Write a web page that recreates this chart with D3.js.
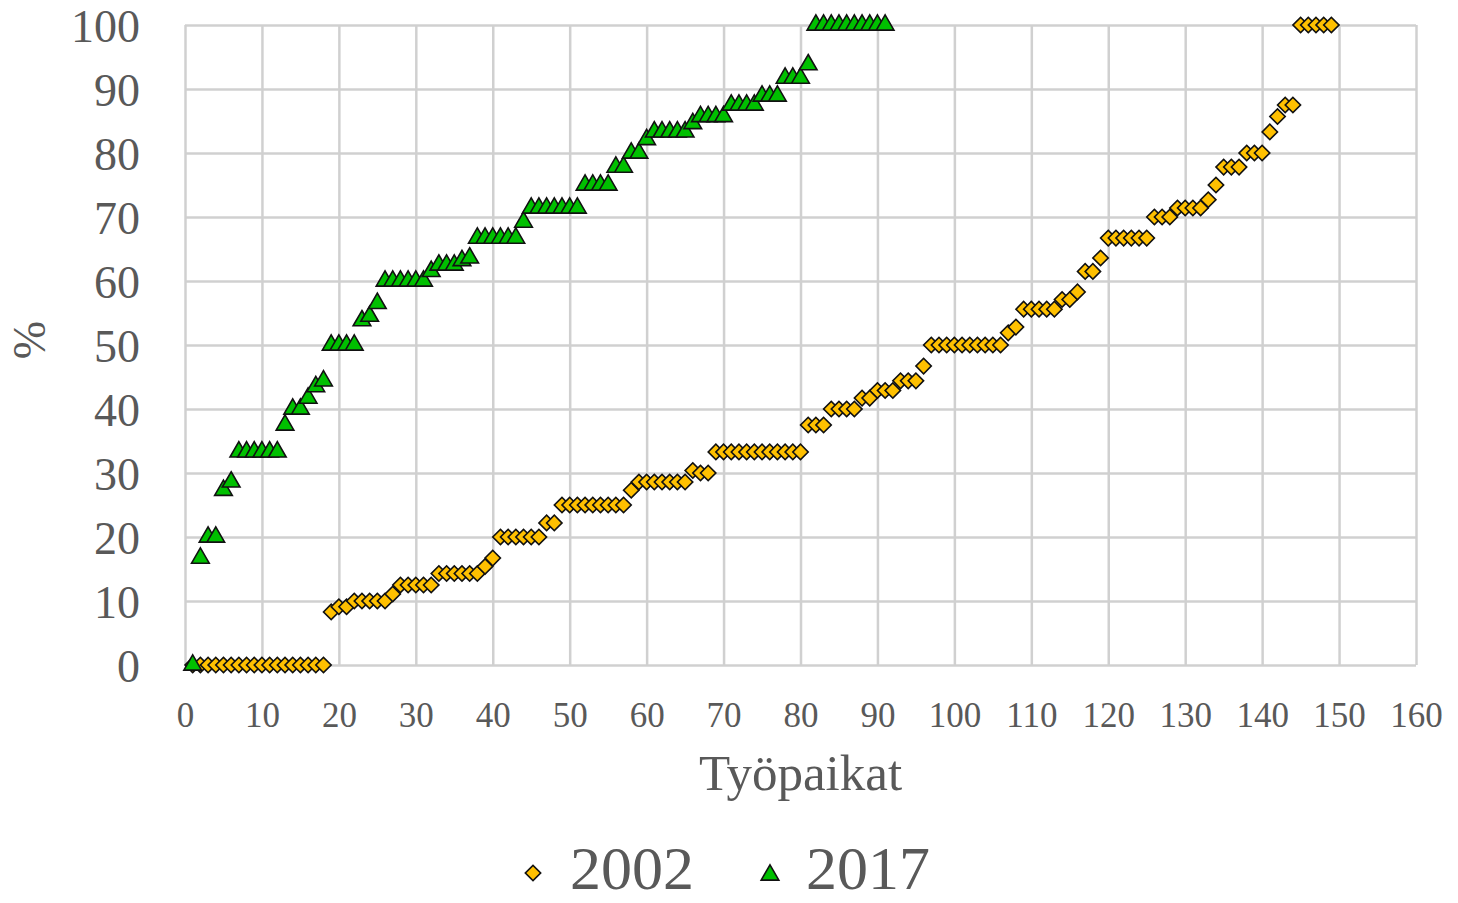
<!DOCTYPE html>
<html>
<head>
<meta charset="utf-8">
<script src="https://cdn.jsdelivr.net/npm/d3@7"></script>
<style>
  body { margin: 0; background: #fff; }
  svg { display: block; }
  text { font-family: "Liberation Serif", "Times New Roman", serif; fill: #595959; }
</style>
</head>
<body>
<svg id="chart" width="1458" height="903"></svg>
<script>
// values, one per workplace (x = 1, 2, 3 ...)
const series2002 = [
  0, 0, 0, 0, 0, 0, 0, 0, 0, 0, 0, 0, 0, 0, 0, 0, 0, 0,
  8.3, 9.1, 9.1, 10, 10, 10, 10, 10, 11.1,
  12.5, 12.5, 12.5, 12.5, 12.5,
  14.3, 14.3, 14.3, 14.3, 14.3, 14.3, 15.4, 16.7,
  20, 20, 20, 20, 20, 20, 22.2, 22.2,
  25, 25, 25, 25, 25, 25, 25, 25, 25, 27.3,
  28.6, 28.6, 28.6, 28.6, 28.6, 28.6, 28.6, 30.4, 30, 30,
  33.3, 33.3, 33.3, 33.3, 33.3, 33.3, 33.3, 33.3, 33.3, 33.3, 33.3, 33.3,
  37.5, 37.5, 37.5, 40, 40, 40, 40, 41.7, 41.7, 42.9, 42.9, 42.9,
  44.4, 44.4, 44.4, 46.7,
  50, 50, 50, 50, 50, 50, 50, 50, 50, 50, 51.9, 52.8,
  55.6, 55.6, 55.6, 55.6, 55.6, 57.1, 57.1, 58.3, 61.5, 61.5, 63.6,
  66.7, 66.7, 66.7, 66.7, 66.7, 66.7, 70, 70, 70,
  71.4, 71.4, 71.4, 71.4, 72.7, 75, 77.8, 77.8, 77.8, 80, 80, 80,
  83.3, 85.7, 87.5, 87.5, 100, 100, 100, 100, 100
];
const series2017 = [
  0, 16.7, 20, 20, 27.3, 28.6,
  33.3, 33.3, 33.3, 33.3, 33.3, 33.3,
  37.5, 40, 40, 41.7, 43.5, 44.4,
  50, 50, 50, 50, 53.8, 54.5, 56.5,
  60, 60, 60, 60, 60, 60, 61.5, 62.5, 62.5, 62.5, 63.2, 63.6,
  66.7, 66.7, 66.7, 66.7, 66.7, 66.7, 69.2,
  71.4, 71.4, 71.4, 71.4, 71.4, 71.4, 71.4,
  75, 75, 75, 75, 77.8, 77.8, 80, 80, 82.1,
  83.3, 83.3, 83.3, 83.3, 83.3, 84.6,
  85.7, 85.7, 85.7, 85.7, 87.5, 87.5, 87.5, 87.5,
  88.9, 88.9, 88.9, 91.7, 91.7, 91.7, 93.8,
  100, 100, 100, 100, 100, 100, 100, 100, 100, 100
];
const seriesNames = ["2002", "2017"];
const xTicks = d3.range(0, 161, 10);
const yTicks = d3.range(0, 101, 10);

const margin = { top: 25, right: 42, bottom: 238, left: 185 };
const width = 1458 - margin.left - margin.right;
const height = 903 - margin.top - margin.bottom;

const svg = d3.select("#chart");
const g = svg.append("g").attr("transform", `translate(${margin.left},${margin.top})`);

const x = d3.scaleLinear().domain([0, 160]).range([0, width]);
const y = d3.scaleLinear().domain([0, 100]).range([height, 0]);

// gridlines
g.append("g")
  .attr("class", "grid")
  .attr("transform", `translate(0,${height})`)
  .call(d3.axisBottom(x).tickValues(xTicks).tickSize(-height).tickFormat(""));
g.append("g")
  .attr("class", "grid")
  .call(d3.axisLeft(y).tickValues(yTicks).tickSize(-width).tickFormat(""));
g.selectAll(".grid .domain").remove();
g.selectAll(".grid line").attr("stroke", "#d0d0d0").attr("stroke-width", 2.5);

// tick labels
g.append("g")
  .attr("class", "xaxis")
  .attr("transform", `translate(0,${height})`)
  .call(d3.axisBottom(x).tickValues(xTicks).tickSize(0).tickPadding(37));
g.append("g")
  .attr("class", "yaxis")
  .call(d3.axisLeft(y).tickValues(yTicks).tickSize(0).tickPadding(45));
g.selectAll(".xaxis .domain, .yaxis .domain").remove();
g.selectAll(".xaxis text")
  .style("font-family", "Liberation Serif")
  .style("font-size", "35px")
  .attr("fill", "#595959");
g.selectAll(".yaxis text")
  .style("font-family", "Liberation Serif")
  .style("font-size", "46px")
  .attr("dy", "0.36em")
  .attr("fill", "#595959");

// axis titles
svg.append("text")
  .attr("x", margin.left + width / 2)
  .attr("y", 790)
  .attr("text-anchor", "middle")
  .style("font-size", "51px")
  .text("Työpaikat");
svg.append("text")
  .attr("transform", "translate(45,340) rotate(-90)")
  .attr("text-anchor", "middle")
  .style("font-size", "46px")
  .text("%");

const diamond = d3.symbol().type(d3.symbolSquare).size(118)();
const triangle = d3.symbol().type(d3.symbolTriangle).size(135)();

const styles = {
  "2002": { path: diamond, fill: "#ffc000", rotate: 45 },
  "2017": { path: triangle, fill: "#00c000", rotate: 0 }
};

function drawSeries(values, name) {
  const st = styles[name];
  g.append("g")
    .attr("class", "series-" + name)
    .selectAll("path")
    .data(values)
    .join("path")
    .attr("d", st.path)
    .attr("transform", (d, i) => `translate(${x(i + 1)},${y(d)}) rotate(${st.rotate})`)
    .attr("fill", st.fill)
    .attr("stroke", "#111")
    .attr("stroke-width", 1.6);
}

drawSeries(series2002, "2002");
drawSeries(series2017, "2017");

// legend
const legendPos = [{ mx: 533, tx: 570 }, { mx: 770, tx: 806 }];
const legend = svg.append("g").attr("class", "legend");
seriesNames.forEach((name, i) => {
  const st = styles[name];
  legend.append("path")
    .attr("d", st.path)
    .attr("transform", `translate(${legendPos[i].mx},${name === "2017" ? 875 : 873}) rotate(${st.rotate})`)
    .attr("fill", st.fill)
    .attr("stroke", "#111")
    .attr("stroke-width", 1.6);
  legend.append("text")
    .attr("x", legendPos[i].tx)
    .attr("y", 889)
    .style("font-size", "62px")
    .text(name);
});
</script>
</body>
</html>
